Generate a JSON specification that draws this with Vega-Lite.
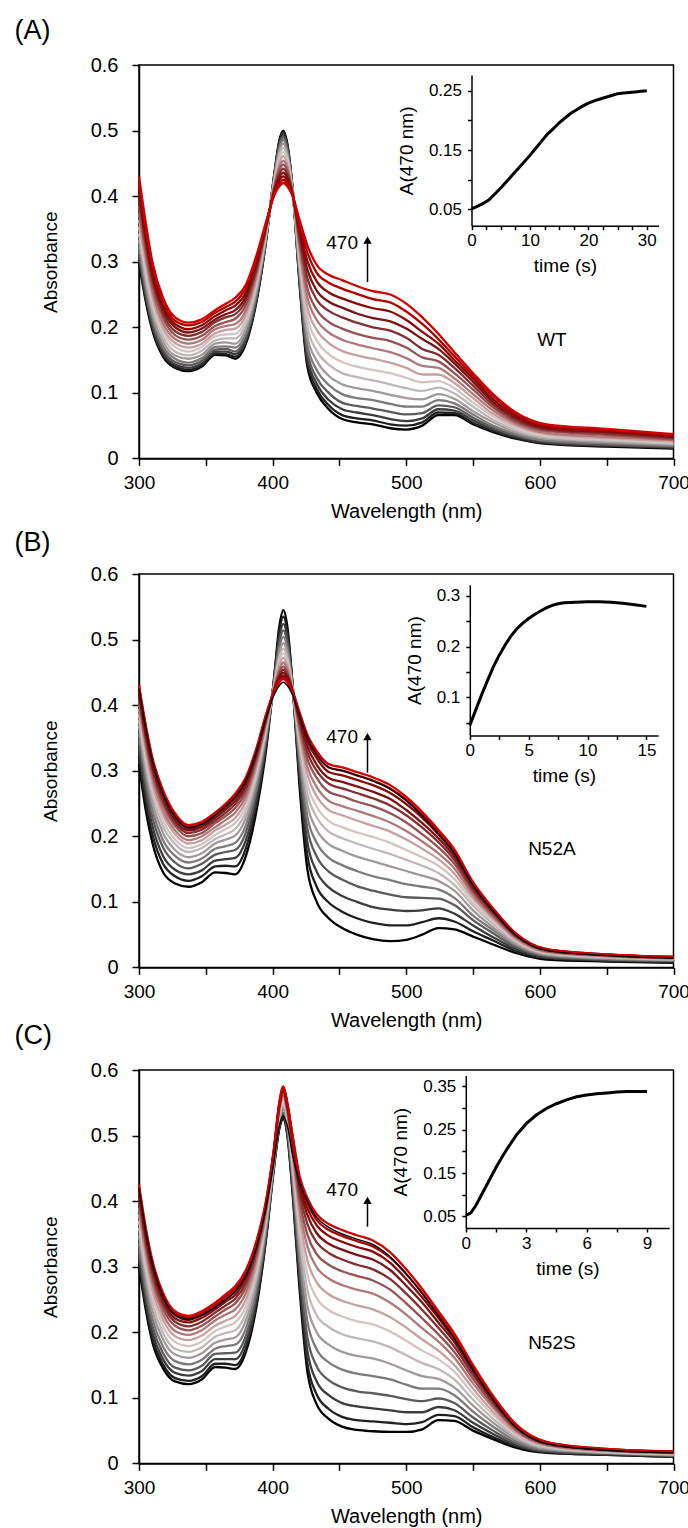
{
"$schema": "https://vega.github.io/schema/vega-lite/v6.json",
"background": "white",
"padding": {"left": 13, "top": 16, "right": 0, "bottom": 0},
"config": {
 "view": {"stroke": "#000", "strokeWidth": 1.5},
 "axis": {"grid": false, "domainColor": "#000", "tickColor": "#000", "labelColor": "#000", "titleColor": "#000", "labelFont": "Liberation Sans", "titleFont": "Liberation Sans", "titleFontWeight": "normal", "labelFontSize": 20, "titleFontSize": 20, "domainWidth": 1.5, "tickWidth": 1.5, "tickSize": 7, "labelFlush": false, "labelOverlap": false, "labelBound": false},
 "text": {"font": "Liberation Sans"}
},
"datasets": {
"specA": [
{"w":300,"c00":0.300,"c01":0.304,"c02":0.309,"c03":0.316,"c04":0.323,"c05":0.333,"c06":0.343,"c07":0.353,"c08":0.364,"c09":0.374,"c10":0.385,"c11":0.395,"c12":0.404,"c13":0.413,"c14":0.422,"c15":0.430},
{"w":305,"c00":0.240,"c01":0.244,"c02":0.248,"c03":0.254,"c04":0.262,"c05":0.270,"c06":0.280,"c07":0.289,"c08":0.299,"c09":0.308,"c10":0.318,"c11":0.328,"c12":0.336,"c13":0.344,"c14":0.353,"c15":0.360},
{"w":310,"c00":0.195,"c01":0.198,"c02":0.202,"c03":0.208,"c04":0.214,"c05":0.221,"c06":0.230,"c07":0.238,"c08":0.247,"c09":0.255,"c10":0.263,"c11":0.272,"c12":0.279,"c13":0.286,"c14":0.294,"c15":0.300},
{"w":318,"c00":0.155,"c01":0.158,"c02":0.161,"c03":0.166,"c04":0.171,"c05":0.178,"c06":0.185,"c07":0.192,"c08":0.199,"c09":0.206,"c10":0.214,"c11":0.221,"c12":0.227,"c13":0.233,"c14":0.240,"c15":0.245},
{"w":327,"c00":0.138,"c01":0.140,"c02":0.143,"c03":0.147,"c04":0.152,"c05":0.157,"c06":0.163,"c07":0.170,"c08":0.176,"c09":0.182,"c10":0.188,"c11":0.194,"c12":0.200,"c13":0.205,"c14":0.210,"c15":0.215},
{"w":337,"c00":0.133,"c01":0.135,"c02":0.138,"c03":0.142,"c04":0.146,"c05":0.152,"c06":0.157,"c07":0.163,"c08":0.169,"c09":0.175,"c10":0.181,"c11":0.187,"c12":0.192,"c13":0.197,"c14":0.203,"c15":0.207},
{"w":347,"c00":0.140,"c01":0.142,"c02":0.145,"c03":0.149,"c04":0.153,"c05":0.158,"c06":0.164,"c07":0.170,"c08":0.175,"c09":0.181,"c10":0.187,"c11":0.193,"c12":0.198,"c13":0.203,"c14":0.208,"c15":0.212},
{"w":357,"c00":0.158,"c01":0.160,"c02":0.163,"c03":0.166,"c04":0.170,"c05":0.175,"c06":0.180,"c07":0.186,"c08":0.191,"c09":0.197,"c10":0.202,"c11":0.208,"c12":0.212,"c13":0.217,"c14":0.222,"c15":0.226},
{"w":365,"c00":0.157,"c01":0.159,"c02":0.163,"c03":0.167,"c04":0.171,"c05":0.177,"c06":0.183,"c07":0.189,"c08":0.196,"c09":0.202,"c10":0.208,"c11":0.215,"c12":0.220,"c13":0.226,"c14":0.231,"c15":0.236},
{"w":372,"c00":0.152,"c01":0.155,"c02":0.159,"c03":0.163,"c04":0.169,"c05":0.175,"c06":0.183,"c07":0.190,"c08":0.198,"c09":0.205,"c10":0.213,"c11":0.220,"c12":0.226,"c13":0.233,"c14":0.239,"c15":0.245},
{"w":380,"c00":0.175,"c01":0.178,"c02":0.181,"c03":0.186,"c04":0.191,"c05":0.198,"c06":0.205,"c07":0.212,"c08":0.219,"c09":0.226,"c10":0.234,"c11":0.241,"c12":0.247,"c13":0.253,"c14":0.260,"c15":0.265},
{"w":388,"c00":0.240,"c01":0.242,"c02":0.245,"c03":0.248,"c04":0.253,"c05":0.258,"c06":0.263,"c07":0.269,"c08":0.274,"c09":0.280,"c10":0.286,"c11":0.291,"c12":0.296,"c13":0.301,"c14":0.306,"c15":0.310},
{"w":395,"c00":0.330,"c01":0.331,"c02":0.332,"c03":0.334,"c04":0.335,"c05":0.338,"c06":0.340,"c07":0.342,"c08":0.345,"c09":0.347,"c10":0.350,"c11":0.352,"c12":0.354,"c13":0.356,"c14":0.358,"c15":0.360},
{"w":401,"c00":0.430,"c01":0.429,"c02":0.428,"c03":0.426,"c04":0.425,"c05":0.423,"c06":0.420,"c07":0.418,"c08":0.415,"c09":0.413,"c10":0.411,"c11":0.408,"c12":0.406,"c13":0.404,"c14":0.402,"c15":0.400},
{"w":405,"c00":0.485,"c01":0.483,"c02":0.480,"c03":0.477,"c04":0.472,"c05":0.468,"c06":0.462,"c07":0.456,"c08":0.451,"c09":0.445,"c10":0.440,"c11":0.434,"c12":0.429,"c13":0.424,"c14":0.419,"c15":0.415},
{"w":408,"c00":0.500,"c01":0.498,"c02":0.494,"c03":0.490,"c04":0.486,"c05":0.480,"c06":0.474,"c07":0.467,"c08":0.461,"c09":0.454,"c10":0.448,"c11":0.442,"c12":0.436,"c13":0.430,"c14":0.425,"c15":0.420},
{"w":411,"c00":0.480,"c01":0.478,"c02":0.475,"c03":0.472,"c04":0.468,"c05":0.464,"c06":0.459,"c07":0.453,"c08":0.448,"c09":0.443,"c10":0.438,"c11":0.433,"c12":0.428,"c13":0.423,"c14":0.419,"c15":0.415},
{"w":415,"c00":0.410,"c01":0.410,"c02":0.409,"c03":0.409,"c04":0.408,"c05":0.408,"c06":0.407,"c07":0.406,"c08":0.405,"c09":0.404,"c10":0.404,"c11":0.403,"c12":0.402,"c13":0.401,"c14":0.401,"c15":0.400},
{"w":420,"c00":0.270,"c01":0.273,"c02":0.277,"c03":0.281,"c04":0.287,"c05":0.294,"c06":0.301,"c07":0.309,"c08":0.317,"c09":0.324,"c10":0.332,"c11":0.339,"c12":0.346,"c13":0.353,"c14":0.359,"c15":0.365},
{"w":426,"c00":0.140,"c01":0.146,"c02":0.153,"c03":0.162,"c04":0.173,"c05":0.186,"c06":0.201,"c07":0.216,"c08":0.231,"c09":0.246,"c10":0.260,"c11":0.275,"c12":0.288,"c13":0.301,"c14":0.314,"c15":0.325},
{"w":433,"c00":0.100,"c01":0.106,"c02":0.114,"c03":0.123,"c04":0.135,"c05":0.149,"c06":0.164,"c07":0.180,"c08":0.196,"c09":0.211,"c10":0.227,"c11":0.242,"c12":0.256,"c13":0.270,"c14":0.283,"c15":0.295},
{"w":442,"c00":0.075,"c01":0.081,"c02":0.089,"c03":0.100,"c04":0.112,"c05":0.126,"c06":0.143,"c07":0.159,"c08":0.176,"c09":0.192,"c10":0.208,"c11":0.225,"c12":0.239,"c13":0.253,"c14":0.268,"c15":0.280},
{"w":452,"c00":0.060,"c01":0.066,"c02":0.075,"c03":0.085,"c04":0.098,"c05":0.113,"c06":0.130,"c07":0.147,"c08":0.164,"c09":0.181,"c10":0.198,"c11":0.215,"c12":0.230,"c13":0.244,"c14":0.259,"c15":0.272},
{"w":463,"c00":0.055,"c01":0.061,"c02":0.070,"c03":0.080,"c04":0.092,"c05":0.107,"c06":0.124,"c07":0.140,"c08":0.157,"c09":0.174,"c10":0.190,"c11":0.207,"c12":0.221,"c13":0.236,"c14":0.251,"c15":0.263},
{"w":475,"c00":0.052,"c01":0.058,"c02":0.066,"c03":0.076,"c04":0.089,"c05":0.103,"c06":0.119,"c07":0.135,"c08":0.152,"c09":0.168,"c10":0.184,"c11":0.200,"c12":0.214,"c13":0.229,"c14":0.243,"c15":0.255},
{"w":488,"c00":0.046,"c01":0.052,"c02":0.060,"c03":0.071,"c04":0.083,"c05":0.097,"c06":0.113,"c07":0.130,"c08":0.146,"c09":0.162,"c10":0.179,"c11":0.195,"c12":0.209,"c13":0.224,"c14":0.238,"c15":0.250},
{"w":500,"c00":0.044,"c01":0.050,"c02":0.057,"c03":0.067,"c04":0.079,"c05":0.092,"c06":0.107,"c07":0.123,"c08":0.138,"c09":0.153,"c10":0.169,"c11":0.184,"c12":0.198,"c13":0.211,"c14":0.224,"c15":0.236},
{"w":512,"c00":0.050,"c01":0.055,"c02":0.061,"c03":0.069,"c04":0.079,"c05":0.090,"c06":0.103,"c07":0.116,"c08":0.128,"c09":0.141,"c10":0.154,"c11":0.167,"c12":0.182,"c13":0.193,"c14":0.205,"c15":0.215},
{"w":524,"c00":0.066,"c01":0.070,"c02":0.075,"c03":0.081,"c04":0.089,"c05":0.098,"c06":0.108,"c07":0.118,"c08":0.128,"c09":0.138,"c10":0.148,"c11":0.158,"c12":0.167,"c13":0.175,"c14":0.182,"c15":0.190},
{"w":536,"c00":0.066,"c01":0.069,"c02":0.073,"c03":0.078,"c04":0.084,"c05":0.091,"c06":0.099,"c07":0.107,"c08":0.115,"c09":0.122,"c10":0.130,"c11":0.138,"c12":0.145,"c13":0.150,"c14":0.156,"c15":0.162},
{"w":550,"c00":0.052,"c01":0.054,"c02":0.058,"c03":0.062,"c04":0.067,"c05":0.072,"c06":0.079,"c07":0.085,"c08":0.092,"c09":0.098,"c10":0.105,"c11":0.111,"c12":0.117,"c13":0.122,"c14":0.126,"c15":0.130},
{"w":565,"c00":0.040,"c01":0.042,"c02":0.044,"c03":0.047,"c04":0.050,"c05":0.055,"c06":0.059,"c07":0.064,"c08":0.068,"c09":0.073,"c10":0.078,"c11":0.082,"c12":0.086,"c13":0.090,"c14":0.095,"c15":0.098},
{"w":582,"c00":0.030,"c01":0.031,"c02":0.033,"c03":0.035,"c04":0.037,"c05":0.040,"c06":0.043,"c07":0.046,"c08":0.050,"c09":0.053,"c10":0.056,"c11":0.059,"c12":0.062,"c13":0.065,"c14":0.068,"c15":0.070},
{"w":605,"c00":0.022,"c01":0.023,"c02":0.024,"c03":0.026,"c04":0.027,"c05":0.030,"c06":0.032,"c07":0.034,"c08":0.037,"c09":0.039,"c10":0.042,"c11":0.044,"c12":0.046,"c13":0.048,"c14":0.050,"c15":0.052},
{"w":650,"c00":0.018,"c01":0.019,"c02":0.020,"c03":0.021,"c04":0.023,"c05":0.025,"c06":0.027,"c07":0.029,"c08":0.031,"c09":0.033,"c10":0.036,"c11":0.038,"c12":0.040,"c13":0.042,"c14":0.043,"c15":0.045},
{"w":700,"c00":0.015,"c01":0.016,"c02":0.017,"c03":0.018,"c04":0.019,"c05":0.021,"c06":0.022,"c07":0.024,"c08":0.026,"c09":0.028,"c10":0.029,"c11":0.031,"c12":0.033,"c13":0.034,"c14":0.036,"c15":0.037}
],
"specB": [
{"w":300,"c00":0.310,"c01":0.322,"c02":0.334,"c03":0.346,"c04":0.357,"c05":0.368,"c06":0.377,"c07":0.386,"c08":0.394,"c09":0.401,"c10":0.408,"c11":0.414,"c12":0.419,"c13":0.424,"c14":0.428,"c15":0.430,"fin":0.425},
{"w":305,"c00":0.240,"c01":0.253,"c02":0.266,"c03":0.279,"c04":0.291,"c05":0.302,"c06":0.313,"c07":0.322,"c08":0.331,"c09":0.339,"c10":0.347,"c11":0.353,"c12":0.358,"c13":0.364,"c14":0.367,"c15":0.370,"fin":0.365},
{"w":310,"c00":0.190,"c01":0.203,"c02":0.216,"c03":0.229,"c04":0.241,"c05":0.252,"c06":0.263,"c07":0.272,"c08":0.281,"c09":0.289,"c10":0.297,"c11":0.303,"c12":0.308,"c13":0.314,"c14":0.317,"c15":0.320,"fin":0.315},
{"w":318,"c00":0.145,"c01":0.158,"c02":0.170,"c03":0.183,"c04":0.194,"c05":0.205,"c06":0.215,"c07":0.224,"c08":0.233,"c09":0.240,"c10":0.248,"c11":0.254,"c12":0.259,"c13":0.264,"c14":0.268,"c15":0.270,"fin":0.265},
{"w":327,"c00":0.128,"c01":0.139,"c02":0.149,"c03":0.160,"c04":0.170,"c05":0.179,"c06":0.188,"c07":0.195,"c08":0.203,"c09":0.209,"c10":0.216,"c11":0.221,"c12":0.225,"c13":0.230,"c14":0.233,"c15":0.235,"fin":0.230},
{"w":337,"c00":0.123,"c01":0.132,"c02":0.142,"c03":0.151,"c04":0.160,"c05":0.168,"c06":0.176,"c07":0.182,"c08":0.189,"c09":0.194,"c10":0.200,"c11":0.205,"c12":0.209,"c13":0.212,"c14":0.215,"c15":0.217,"fin":0.213},
{"w":347,"c00":0.130,"c01":0.139,"c02":0.148,"c03":0.158,"c04":0.166,"c05":0.174,"c06":0.182,"c07":0.188,"c08":0.194,"c09":0.200,"c10":0.205,"c11":0.210,"c12":0.214,"c13":0.217,"c14":0.220,"c15":0.222,"fin":0.218},
{"w":357,"c00":0.145,"c01":0.154,"c02":0.163,"c03":0.172,"c04":0.181,"c05":0.189,"c06":0.196,"c07":0.202,"c08":0.209,"c09":0.214,"c10":0.220,"c11":0.224,"c12":0.228,"c13":0.232,"c14":0.234,"c15":0.236,"fin":0.232},
{"w":365,"c00":0.144,"c01":0.155,"c02":0.165,"c03":0.176,"c04":0.185,"c05":0.195,"c06":0.203,"c07":0.211,"c08":0.218,"c09":0.225,"c10":0.231,"c11":0.236,"c12":0.241,"c13":0.245,"c14":0.248,"c15":0.250,"fin":0.246},
{"w":372,"c00":0.142,"c01":0.154,"c02":0.167,"c03":0.179,"c04":0.190,"c05":0.201,"c06":0.211,"c07":0.220,"c08":0.228,"c09":0.236,"c10":0.243,"c11":0.249,"c12":0.254,"c13":0.259,"c14":0.263,"c15":0.265,"fin":0.260},
{"w":380,"c00":0.170,"c01":0.182,"c02":0.194,"c03":0.206,"c04":0.217,"c05":0.228,"c06":0.237,"c07":0.246,"c08":0.254,"c09":0.261,"c10":0.268,"c11":0.274,"c12":0.279,"c13":0.284,"c14":0.288,"c15":0.290,"fin":0.285},
{"w":388,"c00":0.240,"c01":0.250,"c02":0.259,"c03":0.269,"c04":0.277,"c05":0.286,"c06":0.293,"c07":0.300,"c08":0.307,"c09":0.312,"c10":0.318,"c11":0.323,"c12":0.327,"c13":0.330,"c14":0.333,"c15":0.335,"fin":0.330},
{"w":395,"c00":0.330,"c01":0.336,"c02":0.341,"c03":0.347,"c04":0.352,"c05":0.356,"c06":0.361,"c07":0.365,"c08":0.369,"c09":0.372,"c10":0.375,"c11":0.378,"c12":0.380,"c13":0.382,"c14":0.384,"c15":0.385,"fin":0.380},
{"w":401,"c00":0.440,"c01":0.438,"c02":0.436,"c03":0.434,"c04":0.432,"c05":0.430,"c06":0.429,"c07":0.427,"c08":0.426,"c09":0.425,"c10":0.424,"c11":0.423,"c12":0.422,"c13":0.421,"c14":0.420,"c15":0.420,"fin":0.415},
{"w":405,"c00":0.520,"c01":0.512,"c02":0.503,"c03":0.495,"c04":0.487,"c05":0.479,"c06":0.472,"c07":0.466,"c08":0.461,"c09":0.455,"c10":0.450,"c11":0.446,"c12":0.443,"c13":0.439,"c14":0.437,"c15":0.435,"fin":0.430},
{"w":408,"c00":0.545,"c01":0.535,"c02":0.524,"c03":0.514,"c04":0.504,"c05":0.495,"c06":0.486,"c07":0.479,"c08":0.472,"c09":0.465,"c10":0.459,"c11":0.454,"c12":0.449,"c13":0.445,"c14":0.442,"c15":0.440,"fin":0.435},
{"w":411,"c00":0.520,"c01":0.512,"c02":0.503,"c03":0.495,"c04":0.487,"c05":0.479,"c06":0.472,"c07":0.466,"c08":0.461,"c09":0.455,"c10":0.450,"c11":0.446,"c12":0.443,"c13":0.439,"c14":0.437,"c15":0.435,"fin":0.430},
{"w":415,"c00":0.430,"c01":0.429,"c02":0.428,"c03":0.427,"c04":0.426,"c05":0.425,"c06":0.424,"c07":0.424,"c08":0.423,"c09":0.422,"c10":0.422,"c11":0.421,"c12":0.421,"c13":0.421,"c14":0.420,"c15":0.420,"fin":0.415},
{"w":420,"c00":0.280,"c01":0.291,"c02":0.302,"c03":0.313,"c04":0.323,"c05":0.333,"c06":0.342,"c07":0.349,"c08":0.357,"c09":0.364,"c10":0.370,"c11":0.376,"c12":0.380,"c13":0.385,"c14":0.388,"c15":0.390,"fin":0.385},
{"w":426,"c00":0.150,"c01":0.171,"c02":0.191,"c03":0.212,"c04":0.230,"c05":0.248,"c06":0.265,"c07":0.279,"c08":0.294,"c09":0.306,"c10":0.318,"c11":0.328,"c12":0.337,"c13":0.345,"c14":0.351,"c15":0.355,"fin":0.350},
{"w":433,"c00":0.100,"c01":0.123,"c02":0.146,"c03":0.169,"c04":0.190,"c05":0.210,"c06":0.229,"c07":0.245,"c08":0.261,"c09":0.275,"c10":0.289,"c11":0.300,"c12":0.309,"c13":0.319,"c14":0.325,"c15":0.330,"fin":0.325},
{"w":442,"c00":0.075,"c01":0.099,"c02":0.122,"c03":0.146,"c04":0.167,"c05":0.188,"c06":0.207,"c07":0.223,"c08":0.240,"c09":0.254,"c10":0.268,"c11":0.280,"c12":0.289,"c13":0.298,"c14":0.305,"c15":0.310,"fin":0.305},
{"w":452,"c00":0.060,"c01":0.085,"c02":0.109,"c03":0.134,"c04":0.156,"c05":0.178,"c06":0.197,"c07":0.214,"c08":0.232,"c09":0.246,"c10":0.261,"c11":0.273,"c12":0.283,"c13":0.293,"c14":0.300,"c15":0.305,"fin":0.300},
{"w":463,"c00":0.050,"c01":0.075,"c02":0.100,"c03":0.124,"c04":0.147,"c05":0.169,"c06":0.189,"c07":0.206,"c08":0.224,"c09":0.239,"c10":0.253,"c11":0.266,"c12":0.276,"c13":0.286,"c14":0.293,"c15":0.298,"fin":0.293},
{"w":475,"c00":0.043,"c01":0.068,"c02":0.092,"c03":0.117,"c04":0.139,"c05":0.162,"c06":0.181,"c07":0.199,"c08":0.216,"c09":0.231,"c10":0.246,"c11":0.258,"c12":0.268,"c13":0.278,"c14":0.285,"c15":0.290,"fin":0.284},
{"w":488,"c00":0.040,"c01":0.064,"c02":0.088,"c03":0.111,"c04":0.133,"c05":0.154,"c06":0.173,"c07":0.190,"c08":0.207,"c09":0.221,"c10":0.235,"c11":0.247,"c12":0.257,"c13":0.266,"c14":0.273,"c15":0.278,"fin":0.272},
{"w":500,"c00":0.042,"c01":0.064,"c02":0.086,"c03":0.107,"c04":0.127,"c05":0.147,"c06":0.164,"c07":0.179,"c08":0.195,"c09":0.208,"c10":0.221,"c11":0.232,"c12":0.240,"c13":0.249,"c14":0.256,"c15":0.260,"fin":0.254},
{"w":512,"c00":0.050,"c01":0.069,"c02":0.087,"c03":0.106,"c04":0.123,"c05":0.140,"c06":0.155,"c07":0.168,"c08":0.181,"c09":0.192,"c10":0.203,"c11":0.213,"c12":0.220,"c13":0.228,"c14":0.233,"c15":0.237,"fin":0.231},
{"w":524,"c00":0.060,"c01":0.075,"c02":0.090,"c03":0.105,"c04":0.119,"c05":0.132,"c06":0.144,"c07":0.155,"c08":0.165,"c09":0.174,"c10":0.183,"c11":0.191,"c12":0.197,"c13":0.203,"c14":0.207,"c15":0.210,"fin":0.204},
{"w":536,"c00":0.058,"c01":0.070,"c02":0.082,"c03":0.095,"c04":0.106,"c05":0.117,"c06":0.126,"c07":0.135,"c08":0.143,"c09":0.151,"c10":0.158,"c11":0.164,"c12":0.169,"c13":0.174,"c14":0.178,"c15":0.180,"fin":0.174},
{"w":550,"c00":0.047,"c01":0.055,"c02":0.064,"c03":0.072,"c04":0.079,"c05":0.087,"c06":0.094,"c07":0.099,"c08":0.105,"c09":0.110,"c10":0.115,"c11":0.119,"c12":0.123,"c13":0.126,"c14":0.128,"c15":0.130,"fin":0.125},
{"w":565,"c00":0.035,"c01":0.041,"c02":0.046,"c03":0.052,"c04":0.057,"c05":0.061,"c06":0.066,"c07":0.070,"c08":0.074,"c09":0.077,"c10":0.080,"c11":0.083,"c12":0.085,"c13":0.087,"c14":0.089,"c15":0.090,"fin":0.086},
{"w":582,"c00":0.022,"c01":0.025,"c02":0.028,"c03":0.031,"c04":0.034,"c05":0.036,"c06":0.039,"c07":0.041,"c08":0.043,"c09":0.045,"c10":0.047,"c11":0.048,"c12":0.049,"c13":0.051,"c14":0.051,"c15":0.052,"fin":0.049},
{"w":605,"c00":0.012,"c01":0.014,"c02":0.015,"c03":0.017,"c04":0.018,"c05":0.020,"c06":0.021,"c07":0.022,"c08":0.023,"c09":0.024,"c10":0.025,"c11":0.026,"c12":0.027,"c13":0.027,"c14":0.028,"c15":0.028,"fin":0.026},
{"w":650,"c00":0.009,"c01":0.010,"c02":0.011,"c03":0.012,"c04":0.013,"c05":0.014,"c06":0.015,"c07":0.016,"c08":0.017,"c09":0.017,"c10":0.018,"c11":0.019,"c12":0.019,"c13":0.019,"c14":0.020,"c15":0.020,"fin":0.018},
{"w":700,"c00":0.007,"c01":0.008,"c02":0.009,"c03":0.010,"c04":0.011,"c05":0.011,"c06":0.012,"c07":0.013,"c08":0.013,"c09":0.014,"c10":0.014,"c11":0.015,"c12":0.015,"c13":0.016,"c14":0.016,"c15":0.016,"fin":0.014}
],
"specC": [
{"w":300,"c00":0.300,"c01":0.306,"c02":0.315,"c03":0.325,"c04":0.336,"c05":0.348,"c06":0.359,"c07":0.370,"c08":0.380,"c09":0.390,"c10":0.399,"c11":0.406,"c12":0.413,"c13":0.418,"c14":0.421,"c15":0.425,"fin":0.420},
{"w":305,"c00":0.235,"c01":0.241,"c02":0.250,"c03":0.260,"c04":0.271,"c05":0.283,"c06":0.294,"c07":0.305,"c08":0.315,"c09":0.325,"c10":0.334,"c11":0.341,"c12":0.348,"c13":0.353,"c14":0.356,"c15":0.360,"fin":0.355},
{"w":310,"c00":0.185,"c01":0.191,"c02":0.200,"c03":0.210,"c04":0.221,"c05":0.233,"c06":0.244,"c07":0.255,"c08":0.265,"c09":0.275,"c10":0.284,"c11":0.291,"c12":0.298,"c13":0.303,"c14":0.306,"c15":0.310,"fin":0.305},
{"w":318,"c00":0.145,"c01":0.151,"c02":0.159,"c03":0.168,"c04":0.178,"c05":0.189,"c06":0.199,"c07":0.209,"c08":0.219,"c09":0.228,"c10":0.236,"c11":0.243,"c12":0.249,"c13":0.253,"c14":0.257,"c15":0.260,"fin":0.255},
{"w":327,"c00":0.125,"c01":0.130,"c02":0.138,"c03":0.146,"c04":0.156,"c05":0.166,"c06":0.175,"c07":0.185,"c08":0.194,"c09":0.202,"c10":0.210,"c11":0.216,"c12":0.221,"c13":0.226,"c14":0.229,"c15":0.232,"fin":0.227},
{"w":337,"c00":0.121,"c01":0.126,"c02":0.134,"c03":0.142,"c04":0.151,"c05":0.161,"c06":0.170,"c07":0.179,"c08":0.188,"c09":0.196,"c10":0.203,"c11":0.209,"c12":0.215,"c13":0.219,"c14":0.222,"c15":0.225,"fin":0.220},
{"w":347,"c00":0.128,"c01":0.133,"c02":0.141,"c03":0.149,"c04":0.158,"c05":0.168,"c06":0.177,"c07":0.186,"c08":0.195,"c09":0.203,"c10":0.210,"c11":0.216,"c12":0.222,"c13":0.226,"c14":0.229,"c15":0.232,"fin":0.226},
{"w":357,"c00":0.147,"c01":0.152,"c02":0.159,"c03":0.167,"c04":0.175,"c05":0.184,"c06":0.193,"c07":0.202,"c08":0.210,"c09":0.218,"c10":0.224,"c11":0.230,"c12":0.235,"c13":0.239,"c14":0.242,"c15":0.245,"fin":0.238},
{"w":365,"c00":0.146,"c01":0.152,"c02":0.159,"c03":0.168,"c04":0.179,"c05":0.189,"c06":0.199,"c07":0.209,"c08":0.218,"c09":0.227,"c10":0.235,"c11":0.241,"c12":0.247,"c13":0.251,"c14":0.255,"c15":0.258,"fin":0.250},
{"w":372,"c00":0.144,"c01":0.150,"c02":0.159,"c03":0.169,"c04":0.181,"c05":0.192,"c06":0.203,"c07":0.215,"c08":0.225,"c09":0.235,"c10":0.244,"c11":0.251,"c12":0.257,"c13":0.262,"c14":0.266,"c15":0.270,"fin":0.262},
{"w":380,"c00":0.170,"c01":0.176,"c02":0.185,"c03":0.195,"c04":0.206,"c05":0.218,"c06":0.229,"c07":0.240,"c08":0.250,"c09":0.260,"c10":0.269,"c11":0.276,"c12":0.283,"c13":0.288,"c14":0.291,"c15":0.295,"fin":0.286},
{"w":388,"c00":0.240,"c01":0.245,"c02":0.252,"c03":0.260,"c04":0.269,"c05":0.278,"c06":0.287,"c07":0.296,"c08":0.304,"c09":0.312,"c10":0.319,"c11":0.325,"c12":0.330,"c13":0.334,"c14":0.337,"c15":0.340,"fin":0.330},
{"w":395,"c00":0.340,"c01":0.343,"c02":0.347,"c03":0.352,"c04":0.357,"c05":0.363,"c06":0.368,"c07":0.374,"c08":0.378,"c09":0.383,"c10":0.387,"c11":0.391,"c12":0.394,"c13":0.396,"c14":0.398,"c15":0.400,"fin":0.390},
{"w":401,"c00":0.450,"c01":0.452,"c02":0.454,"c03":0.456,"c04":0.459,"c05":0.461,"c06":0.464,"c07":0.467,"c08":0.469,"c09":0.472,"c10":0.474,"c11":0.476,"c12":0.477,"c13":0.478,"c14":0.479,"c15":0.480,"fin":0.460},
{"w":405,"c00":0.510,"c01":0.512,"c02":0.515,"c03":0.518,"c04":0.522,"c05":0.525,"c06":0.529,"c07":0.532,"c08":0.536,"c09":0.539,"c10":0.542,"c11":0.544,"c12":0.546,"c13":0.548,"c14":0.549,"c15":0.550,"fin":0.515},
{"w":408,"c00":0.525,"c01":0.528,"c02":0.531,"c03":0.535,"c04":0.540,"c05":0.544,"c06":0.549,"c07":0.553,"c08":0.557,"c09":0.561,"c10":0.565,"c11":0.568,"c12":0.570,"c13":0.572,"c14":0.574,"c15":0.575,"fin":0.530},
{"w":411,"c00":0.500,"c01":0.503,"c02":0.506,"c03":0.510,"c04":0.515,"c05":0.519,"c06":0.524,"c07":0.528,"c08":0.532,"c09":0.536,"c10":0.540,"c11":0.543,"c12":0.545,"c13":0.547,"c14":0.549,"c15":0.550,"fin":0.515},
{"w":415,"c00":0.410,"c01":0.415,"c02":0.421,"c03":0.428,"c04":0.436,"c05":0.444,"c06":0.452,"c07":0.460,"c08":0.468,"c09":0.475,"c10":0.481,"c11":0.487,"c12":0.491,"c13":0.495,"c14":0.497,"c15":0.500,"fin":0.470},
{"w":420,"c00":0.270,"c01":0.279,"c02":0.290,"c03":0.304,"c04":0.319,"c05":0.335,"c06":0.350,"c07":0.365,"c08":0.379,"c09":0.392,"c10":0.404,"c11":0.415,"c12":0.423,"c13":0.430,"c14":0.435,"c15":0.440,"fin":0.430},
{"w":426,"c00":0.140,"c01":0.153,"c02":0.172,"c03":0.193,"c04":0.217,"c05":0.241,"c06":0.265,"c07":0.288,"c08":0.310,"c09":0.331,"c10":0.349,"c11":0.365,"c12":0.379,"c13":0.389,"c14":0.397,"c15":0.405,"fin":0.400},
{"w":433,"c00":0.090,"c01":0.105,"c02":0.125,"c03":0.148,"c04":0.174,"c05":0.200,"c06":0.226,"c07":0.252,"c08":0.276,"c09":0.299,"c10":0.319,"c11":0.337,"c12":0.351,"c13":0.363,"c14":0.371,"c15":0.380,"fin":0.375},
{"w":442,"c00":0.068,"c01":0.083,"c02":0.104,"c03":0.127,"c04":0.154,"c05":0.181,"c06":0.208,"c07":0.234,"c08":0.258,"c09":0.282,"c10":0.303,"c11":0.321,"c12":0.335,"c13":0.347,"c14":0.356,"c15":0.365,"fin":0.360},
{"w":452,"c00":0.056,"c01":0.071,"c02":0.092,"c03":0.116,"c04":0.143,"c05":0.170,"c06":0.197,"c07":0.224,"c08":0.248,"c09":0.272,"c10":0.293,"c11":0.311,"c12":0.326,"c13":0.338,"c14":0.347,"c15":0.356,"fin":0.350},
{"w":463,"c00":0.051,"c01":0.066,"c02":0.087,"c03":0.110,"c04":0.137,"c05":0.164,"c06":0.191,"c07":0.217,"c08":0.241,"c09":0.265,"c10":0.286,"c11":0.303,"c12":0.318,"c13":0.330,"c14":0.339,"c15":0.348,"fin":0.342},
{"w":475,"c00":0.049,"c01":0.064,"c02":0.084,"c03":0.107,"c04":0.133,"c05":0.160,"c06":0.186,"c07":0.212,"c08":0.235,"c09":0.259,"c10":0.279,"c11":0.296,"c12":0.311,"c13":0.323,"c14":0.331,"c15":0.340,"fin":0.334},
{"w":488,"c00":0.048,"c01":0.062,"c02":0.081,"c03":0.103,"c04":0.128,"c05":0.152,"c06":0.177,"c07":0.201,"c08":0.223,"c09":0.245,"c10":0.265,"c11":0.281,"c12":0.295,"c13":0.306,"c14":0.314,"c15":0.322,"fin":0.315},
{"w":500,"c00":0.048,"c01":0.060,"c02":0.078,"c03":0.098,"c04":0.120,"c05":0.142,"c06":0.165,"c07":0.187,"c08":0.207,"c09":0.227,"c10":0.244,"c11":0.259,"c12":0.271,"c13":0.281,"c14":0.289,"c15":0.296,"fin":0.289},
{"w":512,"c00":0.052,"c01":0.063,"c02":0.078,"c03":0.095,"c04":0.114,"c05":0.133,"c06":0.153,"c07":0.172,"c08":0.189,"c09":0.206,"c10":0.221,"c11":0.234,"c12":0.245,"c13":0.253,"c14":0.260,"c15":0.266,"fin":0.259},
{"w":524,"c00":0.066,"c01":0.074,"c02":0.086,"c03":0.099,"c04":0.114,"c05":0.129,"c06":0.144,"c07":0.159,"c08":0.172,"c09":0.186,"c10":0.197,"c11":0.207,"c12":0.215,"c13":0.222,"c14":0.227,"c15":0.232,"fin":0.225},
{"w":536,"c00":0.065,"c01":0.072,"c02":0.081,"c03":0.092,"c04":0.104,"c05":0.116,"c06":0.128,"c07":0.140,"c08":0.150,"c09":0.161,"c10":0.170,"c11":0.178,"c12":0.185,"c13":0.190,"c14":0.194,"c15":0.198,"fin":0.190},
{"w":550,"c00":0.050,"c01":0.055,"c02":0.062,"c03":0.070,"c04":0.079,"c05":0.088,"c06":0.097,"c07":0.106,"c08":0.114,"c09":0.122,"c10":0.129,"c11":0.135,"c12":0.140,"c13":0.144,"c14":0.147,"c15":0.150,"fin":0.143},
{"w":565,"c00":0.037,"c01":0.040,"c02":0.045,"c03":0.050,"c04":0.056,"c05":0.062,"c06":0.068,"c07":0.074,"c08":0.079,"c09":0.085,"c10":0.089,"c11":0.093,"c12":0.096,"c13":0.099,"c14":0.101,"c15":0.103,"fin":0.097},
{"w":582,"c00":0.024,"c01":0.026,"c02":0.028,"c03":0.031,"c04":0.034,"c05":0.038,"c06":0.041,"c07":0.044,"c08":0.047,"c09":0.050,"c10":0.052,"c11":0.055,"c12":0.056,"c13":0.058,"c14":0.059,"c15":0.060,"fin":0.055},
{"w":605,"c00":0.016,"c01":0.017,"c02":0.018,"c03":0.019,"c04":0.021,"c05":0.022,"c06":0.024,"c07":0.026,"c08":0.027,"c09":0.028,"c10":0.029,"c11":0.030,"c12":0.031,"c13":0.032,"c14":0.032,"c15":0.033,"fin":0.030},
{"w":650,"c00":0.013,"c01":0.013,"c02":0.014,"c03":0.015,"c04":0.016,"c05":0.016,"c06":0.017,"c07":0.018,"c08":0.019,"c09":0.019,"c10":0.020,"c11":0.021,"c12":0.021,"c13":0.021,"c14":0.022,"c15":0.022,"fin":0.020},
{"w":700,"c00":0.010,"c01":0.010,"c02":0.011,"c03":0.012,"c04":0.012,"c05":0.013,"c06":0.014,"c07":0.014,"c08":0.015,"c09":0.016,"c10":0.016,"c11":0.017,"c12":0.017,"c13":0.018,"c14":0.018,"c15":0.018,"fin":0.016}
],
"kinA": [
{"t":0,"v":0.051},{"t":1,"v":0.055},{"t":2,"v":0.060},{"t":3,"v":0.066},{"t":4,"v":0.076},{"t":5,"v":0.086},{"t":6,"v":0.097},{"t":7,"v":0.108},{"t":8,"v":0.119},{"t":9,"v":0.130},{"t":10,"v":0.141},{"t":11,"v":0.153},{"t":12,"v":0.165},{"t":13,"v":0.177},{"t":14,"v":0.186},{"t":15,"v":0.196},{"t":16,"v":0.204},{"t":17,"v":0.212},{"t":18,"v":0.218},{"t":19,"v":0.224},{"t":20,"v":0.229},{"t":21,"v":0.233},{"t":22,"v":0.236},{"t":23,"v":0.239},{"t":24,"v":0.242},{"t":25,"v":0.245},{"t":26,"v":0.246},{"t":27,"v":0.247},{"t":28,"v":0.248},{"t":29,"v":0.249},{"t":30,"v":0.250}
],
"kinB": [
{"t":0,"v":0.045},{"t":0.5,"v":0.075},{"t":1,"v":0.105},{"t":1.5,"v":0.133},{"t":2,"v":0.160},{"t":2.5,"v":0.183},{"t":3,"v":0.203},{"t":3.5,"v":0.221},{"t":4,"v":0.235},{"t":4.5,"v":0.246},{"t":5,"v":0.255},{"t":5.5,"v":0.263},{"t":6,"v":0.270},{"t":6.5,"v":0.276},{"t":7,"v":0.281},{"t":7.5,"v":0.284},{"t":8,"v":0.286},{"t":9,"v":0.287},{"t":10,"v":0.288},{"t":11,"v":0.288},{"t":12,"v":0.287},{"t":13,"v":0.285},{"t":14,"v":0.282},{"t":15,"v":0.279}
],
"kinC": [
{"t":0,"v":0.052},{"t":0.25,"v":0.058},{"t":0.5,"v":0.075},{"t":0.75,"v":0.097},{"t":1,"v":0.119},{"t":1.25,"v":0.141},{"t":1.5,"v":0.163},{"t":1.75,"v":0.183},{"t":2,"v":0.202},{"t":2.5,"v":0.237},{"t":3,"v":0.264},{"t":3.5,"v":0.284},{"t":4,"v":0.299},{"t":4.5,"v":0.310},{"t":5,"v":0.319},{"t":5.5,"v":0.326},{"t":6,"v":0.330},{"t":6.5,"v":0.333},{"t":7,"v":0.335},{"t":7.5,"v":0.337},{"t":8,"v":0.338},{"t":8.5,"v":0.338},{"t":9,"v":0.338}
]
},
"spacing": 4,
"vconcat": [
{
 "title": {"text": "(A)", "anchor": "start", "frame": "group", "dx": -124.5, "offset": -17, "fontSize": 27, "fontWeight": "normal", "font": "Liberation Sans", "baseline": "bottom", "color": "#000"},
 "width": 534.5, "height": 393.4,
 "resolve": {"scale": {"x": "independent", "y": "independent"}, "axis": {"x": "independent", "y": "independent"}},
 "layer": [
  {"layer": [
   {"data": {"name": "specA"},
    "transform": [{"fold": ["c00","c01","c02","c03","c04","c05","c06","c07","c08","c09","c10","c11","c12","c13","c14","c15"], "as": ["k","a"]}],
    "mark": {"type": "line", "strokeWidth": 2.3, "interpolate": "monotone"},
    "encoding": {
     "x": {"field": "w", "type": "quantitative", "title": "Wavelength (nm)", "scale": {"domain": [300,700], "nice": false, "zero": false}, "axis": {"values": [300,350,400,450,500,550,600,650,700], "labelExpr": "datum.value % 100 == 0 ? format(datum.value, 'd') : ''", "labelFontSize": 19, "labelPadding": 8, "titlePadding": 9}},
     "y": {"field": "a", "type": "quantitative", "title": "Absorbance", "scale": {"domain": [0,0.6], "nice": false, "zero": false}, "axis": {"values": [0,0.05,0.1,0.15,0.2,0.25,0.3,0.35,0.4,0.45,0.5,0.55,0.6], "labelExpr": "datum.value == 0 ? '0' : (datum.value == 0.1 || datum.value == 0.2 || datum.value == 0.3 || datum.value == 0.4 || datum.value == 0.5 || datum.value == 0.6 ? format(datum.value, '.1f') : '')", "labelPadding": 14, "titlePadding": 30, "titleFontSize": 19}},
     "color": {"field": "k", "type": "nominal", "legend": null, "scale": {"domain": ["c00","c01","c02","c03","c04","c05","c06","c07","c08","c09","c10","c11","c12","c13","c14","c15"], "range": ["#000000","#202020","#3c3c3c","#5c5a5a","#7e7a7a","#a09a9a","#c0b8b8","#d4c4c4","#c8a0a0","#b07878","#985050","#842e2e","#7a1414","#8c0606","#b00000","#d00000"]}}
    }},
   {"data": {"values": [{}]}, "mark": {"type": "text", "text": "470", "fontSize": 19, "color": "#000"}, "encoding": {"x": {"datum": 452}, "y": {"datum": 0.329}}},
   {"data": {"values": [{}]}, "mark": {"type": "rule", "strokeWidth": 1.5, "color": "#000"}, "encoding": {"x": {"datum": 471}, "y": {"datum": 0.269}, "y2": {"datum": 0.33}}},
   {"data": {"values": [{}]}, "mark": {"type": "point", "shape": "triangle-up", "filled": true, "color": "#000", "opacity": 1, "size": 70}, "encoding": {"x": {"datum": 471}, "y": {"datum": 0.333}}},
   {"data": {"values": [{}]}, "mark": {"type": "text", "text": "WT", "fontSize": 19, "color": "#000"}, "encoding": {"x": {"datum": 609}, "y": {"datum": 0.18}}}
  ]},
  {"data": {"name": "kinA"},
   "mark": {"type": "line", "color": "#000", "strokeWidth": 3},
   "encoding": {
    "x": {"field": "t", "type": "quantitative", "scale": {"domain": [0,32], "range": [332.5,519.5], "nice": false, "zero": false}, "axis": {"orient": "bottom", "offset": -232.7, "title": "time (s)", "values": [0,2.5,5,7.5,10,12.5,15,17.5,20,22.5,25,27.5,30], "labelExpr": "datum.value % 10 == 0 ? format(datum.value, 'd') : ''", "tickSize": 4, "labelFontSize": 17, "titleFontSize": 19, "labelPadding": 3, "titlePadding": 8}},
    "y": {"field": "v", "type": "quantitative", "scale": {"domain": [0.0225,0.2765], "range": [160.7,10], "nice": false, "zero": false}, "axis": {"orient": "left", "offset": -332.5, "title": "A(470 nm)", "values": [0.05,0.1,0.15,0.2,0.25], "labelExpr": "datum.value == 0.05 || datum.value == 0.15 || datum.value == 0.25 ? format(datum.value, '.2f') : ''", "tickSize": 4, "labelFontSize": 17, "titleFontSize": 19, "labelPadding": 6, "titlePadding": 12}}
   }}
 ]
},
{
 "spacing": -11,
 "vconcat": [
 {
  "title": {"text": "(B)", "anchor": "start", "frame": "group", "dx": -124.5, "offset": -19.7, "fontSize": 27, "fontWeight": "normal", "font": "Liberation Sans", "baseline": "bottom", "color": "#000"},
  "width": 534.5, "height": 393.4,
  "resolve": {"scale": {"x": "independent", "y": "independent"}, "axis": {"x": "independent", "y": "independent"}},
  "layer": [
   {"layer": [
    {"data": {"name": "specB"},
     "transform": [{"fold": ["c00","c01","c02","c03","c04","c05","c06","c07","c08","c09","c10","c11","c12","c13","c14","c15"], "as": ["k","a"]}],
     "mark": {"type": "line", "strokeWidth": 2.3, "interpolate": "monotone"},
     "encoding": {
      "x": {"field": "w", "type": "quantitative", "title": "Wavelength (nm)", "scale": {"domain": [300,700], "nice": false, "zero": false}, "axis": {"values": [300,350,400,450,500,550,600,650,700], "labelExpr": "datum.value % 100 == 0 ? format(datum.value, 'd') : ''", "labelFontSize": 19, "labelPadding": 8, "titlePadding": 9}},
      "y": {"field": "a", "type": "quantitative", "title": "Absorbance", "scale": {"domain": [0,0.6], "nice": false, "zero": false}, "axis": {"values": [0,0.05,0.1,0.15,0.2,0.25,0.3,0.35,0.4,0.45,0.5,0.55,0.6], "labelExpr": "datum.value == 0 ? '0' : (datum.value == 0.1 || datum.value == 0.2 || datum.value == 0.3 || datum.value == 0.4 || datum.value == 0.5 || datum.value == 0.6 ? format(datum.value, '.1f') : '')", "labelPadding": 14, "titlePadding": 30, "titleFontSize": 19}},
      "color": {"field": "k", "type": "nominal", "legend": null, "scale": {"domain": ["c00","c01","c02","c03","c04","c05","c06","c07","c08","c09","c10","c11","c12","c13","c14","c15"], "range": ["#000000","#202020","#3c3c3c","#5c5a5a","#7e7a7a","#a09a9a","#c0b8b8","#d4c4c4","#c8a0a0","#b07878","#985050","#842e2e","#7a1414","#8c0606","#b00000","#d00000"]}}
     }},
    {"data": {"name": "specB"}, "mark": {"type": "line", "color": "#000", "strokeWidth": 1.4, "interpolate": "monotone"}, "encoding": {"x": {"field": "w", "type": "quantitative", "title": "Wavelength (nm)"}, "y": {"field": "fin", "type": "quantitative", "title": "Absorbance"}}},
    {"data": {"values": [{}]}, "mark": {"type": "text", "text": "470", "fontSize": 19, "color": "#000"}, "encoding": {"x": {"datum": 452}, "y": {"datum": 0.351}}},
    {"data": {"values": [{}]}, "mark": {"type": "rule", "strokeWidth": 1.5, "color": "#000"}, "encoding": {"x": {"datum": 471}, "y": {"datum": 0.297}, "y2": {"datum": 0.35}}},
    {"data": {"values": [{}]}, "mark": {"type": "point", "shape": "triangle-up", "filled": true, "color": "#000", "opacity": 1, "size": 70}, "encoding": {"x": {"datum": 471}, "y": {"datum": 0.352}}},
    {"data": {"values": [{}]}, "mark": {"type": "text", "text": "N52A", "fontSize": 19, "color": "#000"}, "encoding": {"x": {"datum": 609}, "y": {"datum": 0.18}}}
   ]},
   {"data": {"name": "kinB"},
    "mark": {"type": "line", "color": "#000", "strokeWidth": 3},
    "encoding": {
     "x": {"field": "t", "type": "quantitative", "scale": {"domain": [0,16], "range": [330.8,519.2], "nice": false, "zero": false}, "axis": {"orient": "bottom", "offset": -232.0, "title": "time (s)", "values": [0,2.5,5,7.5,10,12.5,15], "labelExpr": "datum.value % 5 == 0 ? format(datum.value, 'd') : ''", "tickSize": 4, "labelFontSize": 17, "titleFontSize": 19, "labelPadding": 3, "titlePadding": 8}},
     "y": {"field": "v", "type": "quantitative", "scale": {"domain": [0.0253,0.3216], "range": [161.4,10.7], "nice": false, "zero": false}, "axis": {"orient": "left", "offset": -330.8, "title": "A(470 nm)", "values": [0.05,0.1,0.15,0.2,0.25,0.3], "labelExpr": "datum.value == 0.1 || datum.value == 0.2 || datum.value == 0.3 ? format(datum.value, '.1f') : ''", "tickSize": 4, "labelFontSize": 17, "titleFontSize": 19, "labelPadding": 6, "titlePadding": 12}}
    }}
  ]
 },
 {
  "title": {"text": "(C)", "anchor": "start", "frame": "group", "dx": -124.5, "offset": -17, "fontSize": 27, "fontWeight": "normal", "font": "Liberation Sans", "baseline": "bottom", "color": "#000"},
  "width": 534.5, "height": 393.4,
  "resolve": {"scale": {"x": "independent", "y": "independent"}, "axis": {"x": "independent", "y": "independent"}},
  "layer": [
   {"layer": [
    {"data": {"name": "specC"},
     "transform": [{"fold": ["c00","c01","c02","c03","c04","c05","c06","c07","c08","c09","c10","c11","c12","c13","c14","c15"], "as": ["k","a"]}],
     "mark": {"type": "line", "strokeWidth": 2.3, "interpolate": "monotone"},
     "encoding": {
      "x": {"field": "w", "type": "quantitative", "title": "Wavelength (nm)", "scale": {"domain": [300,700], "nice": false, "zero": false}, "axis": {"values": [300,350,400,450,500,550,600,650,700], "labelExpr": "datum.value % 100 == 0 ? format(datum.value, 'd') : ''", "labelFontSize": 19, "labelPadding": 8, "titlePadding": 9}},
      "y": {"field": "a", "type": "quantitative", "title": "Absorbance", "scale": {"domain": [0,0.6], "nice": false, "zero": false}, "axis": {"values": [0,0.05,0.1,0.15,0.2,0.25,0.3,0.35,0.4,0.45,0.5,0.55,0.6], "labelExpr": "datum.value == 0 ? '0' : (datum.value == 0.1 || datum.value == 0.2 || datum.value == 0.3 || datum.value == 0.4 || datum.value == 0.5 || datum.value == 0.6 ? format(datum.value, '.1f') : '')", "labelPadding": 14, "titlePadding": 30, "titleFontSize": 19}},
      "color": {"field": "k", "type": "nominal", "legend": null, "scale": {"domain": ["c00","c01","c02","c03","c04","c05","c06","c07","c08","c09","c10","c11","c12","c13","c14","c15"], "range": ["#000000","#202020","#3c3c3c","#5c5a5a","#7e7a7a","#a09a9a","#c0b8b8","#d4c4c4","#c8a0a0","#b07878","#985050","#842e2e","#7a1414","#8c0606","#b00000","#d00000"]}}
     }},
    {"data": {"name": "specC"}, "mark": {"type": "line", "color": "#000", "strokeWidth": 1.4, "interpolate": "monotone"}, "encoding": {"x": {"field": "w", "type": "quantitative", "title": "Wavelength (nm)"}, "y": {"field": "fin", "type": "quantitative", "title": "Absorbance"}}},
    {"data": {"values": [{}]}, "mark": {"type": "text", "text": "470", "fontSize": 19, "color": "#000"}, "encoding": {"x": {"datum": 452}, "y": {"datum": 0.417}}},
    {"data": {"values": [{}]}, "mark": {"type": "rule", "strokeWidth": 1.5, "color": "#000"}, "encoding": {"x": {"datum": 471}, "y": {"datum": 0.361}, "y2": {"datum": 0.4}}},
    {"data": {"values": [{}]}, "mark": {"type": "point", "shape": "triangle-up", "filled": true, "color": "#000", "opacity": 1, "size": 70}, "encoding": {"x": {"datum": 471}, "y": {"datum": 0.401}}},
    {"data": {"values": [{}]}, "mark": {"type": "text", "text": "N52S", "fontSize": 19, "color": "#000"}, "encoding": {"x": {"datum": 609}, "y": {"datum": 0.183}}}
   ]},
   {"data": {"name": "kinC"},
    "mark": {"type": "line", "color": "#000", "strokeWidth": 3},
    "encoding": {
     "x": {"field": "t", "type": "quantitative", "scale": {"domain": [0,10.1], "range": [326.8,530.2], "nice": false, "zero": false}, "axis": {"orient": "bottom", "offset": -235.4, "title": "time (s)", "values": [0,1.5,3,4.5,6,7.5,9], "labelExpr": "datum.value % 3 == 0 ? format(datum.value, 'd') : ''", "tickSize": 4, "labelFontSize": 17, "titleFontSize": 19, "labelPadding": 3, "titlePadding": 8}},
     "y": {"field": "v", "type": "quantitative", "scale": {"domain": [0.0232,0.3754], "range": [158,5.4], "nice": false, "zero": false}, "axis": {"orient": "left", "offset": -326.8, "title": "A(470 nm)", "values": [0.05,0.1,0.15,0.2,0.25,0.3,0.35], "labelExpr": "datum.value == 0.05 || datum.value == 0.15 || datum.value == 0.25 || datum.value == 0.35 ? format(datum.value, '.2f') : ''", "tickSize": 4, "labelFontSize": 17, "titleFontSize": 19, "labelPadding": 6, "titlePadding": 12}}
    }}
  ]
 }
 ]
}
]
}
